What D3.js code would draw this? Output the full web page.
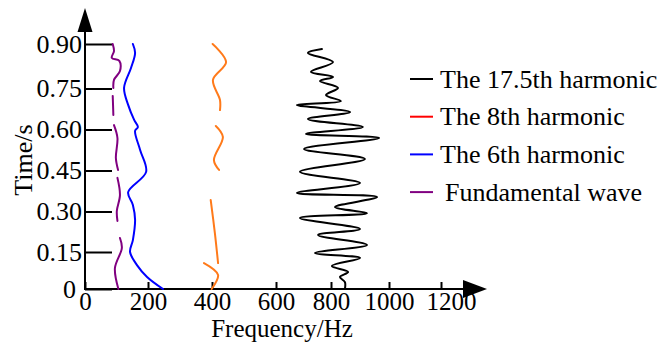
<!DOCTYPE html>
<html>
<head>
<meta charset="utf-8">
<script src="https://cdn.jsdelivr.net/npm/d3@7"></script>
<style>
  body { margin: 0; background: #fff; }
  text { font-family: "Liberation Serif", "Times New Roman", Times, serif; fill: #000; }
</style>
</head>
<body>
<svg width="659" height="343"></svg>
<script>
// axis ticks
const xTicks = [0, 200, 400, 600, 800, 1000, 1200];
const yTicks = [0, 0.15, 0.30, 0.45, 0.60, 0.75, 0.90];

// series: time (s) and frequency (Hz), null = break in the line
const h175Time = [0.883, 0.870, 0.839, 0.806, 0.789, 0.775, 0.752, 0.726, 0.704, 0.690, 0.664, 0.638, 0.609, 0.584, 0.569, 0.529, 0.492, 0.445, 0.404, 0.368, 0.353, 0.316, 0.294, 0.276, 0.235, 0.213, 0.176, 0.146, 0.126, 0.093, 0.069, 0.049, 0.028, 0];
const h175Freq = [767, 716, 807, 727, 807, 760, 824, 782, 834, 676, 866, 716, 910, 709, 966, 702, 917, 687, 900, 676, 959, 814, 924, 687, 900, 753, 924, 742, 900, 803, 859, 831, 848, 848];

const h8Time = [0.90, 0.839, 0.779, 0.708, 0.671, null, 0.613, 0.573, 0.488, 0.452, null, 0.342, 0.220, 0.105, null, 0.105, 0.057, 0];
const h8Freq = [402, 444, 403, 425, 425, null, 412, 434, 406, 422, null, 396, 409, 419, null, 375, 419, 399];

const h6Time = [0.90, 0.870, 0.819, 0.752, 0.690, 0.635, 0.609, 0.595, 0.525, 0.445, 0.371, 0.324, 0.269, 0.194, 0.15, 0.097, 0.049, 0];
const h6Freq = [152, 159, 146, 124, 137, 156, 168, 159, 175, 194, 137, 152, 159, 152, 143, 165, 197, 247];

const fundTime = [0.90, 0.876, 0.853, 0.843, 0.809, 0.779, 0.752, null, 0.723, 0.690, 0.653, null, 0.616, 0.569, 0.496, 0.452, null, 0.423, 0.360, 0.302, 0.265, null, 0.202, 0.165, 0.085, 0];
const fundFreq = [88, 92, 85, 109, 111, 92, 90, null, 88, 89, 90, null, 92, 103, 98, 105, null, 103, 111, 101, 103, null, 111, 117, 95, 106];

const legendNames = ["The 17.5th harmonic", "The 8th harmonic", "The 6th harmonic", "Fundamental wave"];
const legendColors = ["#000000", "#ff0000", "#0000ff", "#800080"];

const svg = d3.select('svg');
svg.append('rect').attr('width', 659).attr('height', 343).attr('fill', '#fff');

const x0 = 85, y0 = 289;

// the original axes are not evenly spaced, so map tick to tick
const x = d3.scaleLinear()
    .domain(xTicks)
    .range([x0, 148, 212, 276, 331, 389, 441]);
const y = d3.scaleLinear()
    .domain(yTicks)
    .range([y0, 252, 211.5, 170.5, 129.5, 88.5, 44]);

// x axis
const xAxis = d3.axisBottom(x)
    .tickValues(xTicks)
    .tickSize(-7)
    .tickSizeOuter(0)
    .tickPadding(3)
    .tickFormat(d3.format('d'));
const gx = svg.append('g')
    .attr('transform', 'translate(0,' + y0 + ')')
    .call(xAxis);
gx.select('.domain').remove();
gx.selectAll('line').attr('stroke', '#000').attr('stroke-width', 2);
gx.selectAll('text')
    .style('font-size', '25px')
    .attr('dx', d => d === 1200 ? 10 : 0);

// y axis
const yAxis = d3.axisLeft(y)
    .tickValues(yTicks)
    .tickSize(-27)
    .tickSizeOuter(0)
    .tickPadding(3)
    .tickFormat(d => d === 0 ? '0' : d3.format('.2f')(d));
const gy = svg.append('g')
    .attr('transform', 'translate(' + x0 + ',0)')
    .call(yAxis);
gy.select('.domain').remove();
gy.selectAll('line').attr('stroke', '#000').attr('stroke-width', 2);
gy.selectAll('text')
    .style('font-size', '26px')
    .attr('dy', '0.32em')
    .attr('dx', d => d === 0 ? -6 : 0);

// axis lines with arrows
svg.append('line')
    .attr('x1', x0).attr('y1', y0).attr('x2', 465).attr('y2', y0)
    .attr('stroke', '#000').attr('stroke-width', 2);
svg.append('path')
    .attr('d', 'M463,280L487,289L463,298Z')
    .attr('fill', '#000');
svg.append('line')
    .attr('x1', x0).attr('y1', y0 + 1).attr('x2', x0).attr('y2', 30)
    .attr('stroke', '#000').attr('stroke-width', 2);
svg.append('path')
    .attr('d', 'M77.5,32L85,8L92.5,32Z')
    .attr('fill', '#000');

// axis titles
svg.append('text')
    .attr('x', 282).attr('y', 337)
    .attr('text-anchor', 'middle')
    .style('font-size', '25px')
    .text('Frequency/Hz');
svg.append('text')
    .attr('transform', 'translate(32,160) rotate(-90)')
    .attr('text-anchor', 'middle')
    .style('font-size', '26px')
    .text('Time/s');

// curves
const line = d3.line()
    .defined(d => d.f != null)
    .x(d => x(d.f))
    .y(d => y(d.t))
    .curve(d3.curveCatmullRom.alpha(0.5));

function pts(times, freqs) {
    return times.map((t, i) => ({ t: t, f: freqs[i] }));
}

const series = [
    { data: pts(fundTime, fundFreq), color: '#800080' },
    { data: pts(h6Time, h6Freq), color: '#0000ff' },
    { data: pts(h8Time, h8Freq), color: '#ff7a1a' },
    { data: pts(h175Time, h175Freq), color: '#000000' }
];

svg.selectAll('path.curve')
    .data(series)
    .enter()
    .append('path')
    .attr('class', 'curve')
    .attr('d', d => line(d.data))
    .attr('fill', 'none')
    .attr('stroke', d => d.color)
    .attr('stroke-width', 2)
    .attr('stroke-linecap', 'round');

// legend
const legend = svg.append('g');
legendNames.forEach((name, i) => {
    const ly = 79 + i * 37.7;
    legend.append('line')
        .attr('x1', 410).attr('x2', 433)
        .attr('y1', ly).attr('y2', ly)
        .attr('stroke', legendColors[i])
        .attr('stroke-width', 2);
    legend.append('text')
        .attr('x', i === 3 ? 445 : 440)
        .attr('y', ly + 8.5)
        .style('font-size', '26px')
        .text(name);
});
</script>
</body>
</html>
